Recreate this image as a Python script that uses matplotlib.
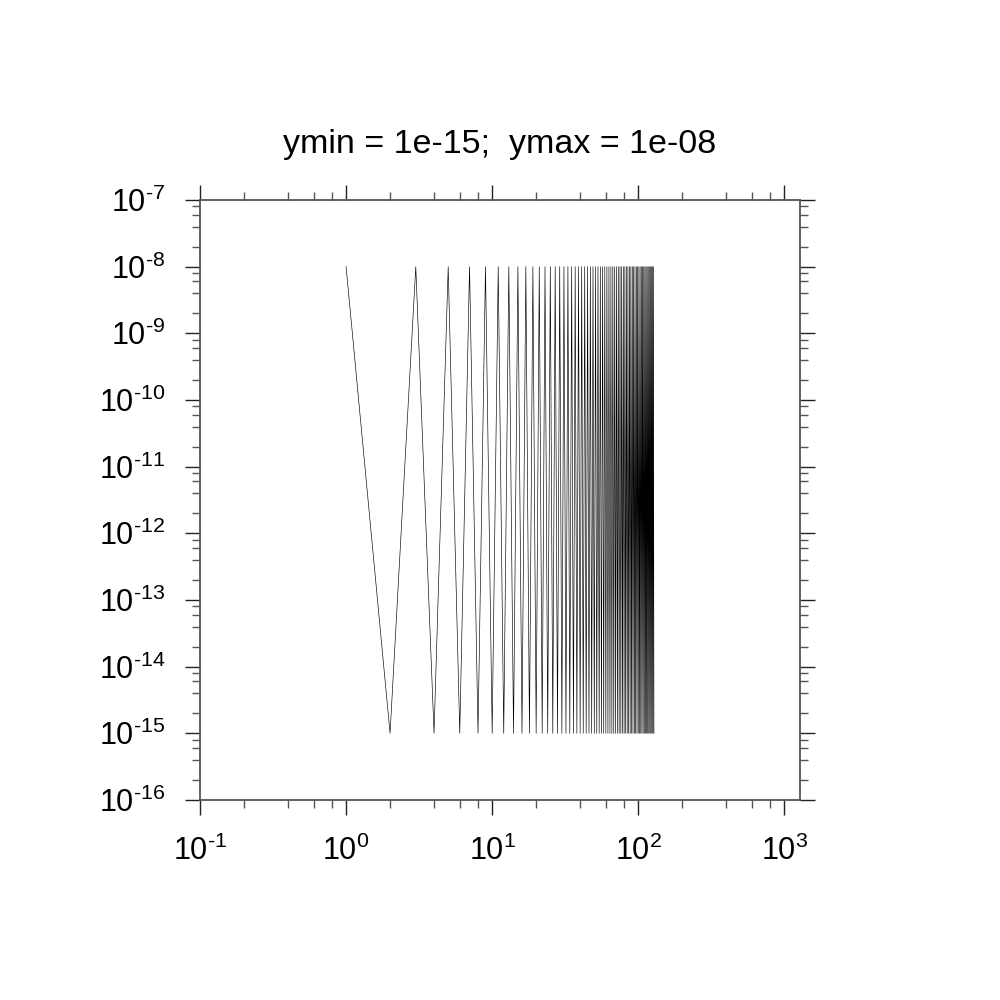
import math
import matplotlib
matplotlib.use("Agg")
import matplotlib.pyplot as plt
from matplotlib.ticker import LogLocator, FuncFormatter, NullFormatter

plt.rcParams["font.family"] = ["Liberation Sans", "DejaVu Sans"]
plt.rcParams["mathtext.fontset"] = "custom"
plt.rcParams["mathtext.rm"] = "Liberation Sans"
plt.rcParams["mathtext.it"] = "Liberation Sans:italic"
plt.rcParams["mathtext.bf"] = "Liberation Sans:bold"

# ============================================================
# Data: index vs alternating ymax / ymin
# ============================================================

YMIN = 1e-15
YMAX = 1e-08
HI, LO = YMAX, YMIN

x = [
    1, 2, 3, 4, 5, 6, 7, 8, 9, 10, 11, 12, 13, 14, 15, 16,
    17, 18, 19, 20, 21, 22, 23, 24, 25, 26, 27, 28, 29, 30, 31, 32,
    33, 34, 35, 36, 37, 38, 39, 40, 41, 42, 43, 44, 45, 46, 47, 48,
    49, 50, 51, 52, 53, 54, 55, 56, 57, 58, 59, 60, 61, 62, 63, 64,
    65, 66, 67, 68, 69, 70, 71, 72, 73, 74, 75, 76, 77, 78, 79, 80,
    81, 82, 83, 84, 85, 86, 87, 88, 89, 90, 91, 92, 93, 94, 95, 96,
    97, 98, 99, 100, 101, 102, 103, 104, 105, 106, 107, 108, 109, 110, 111, 112,
    113, 114, 115, 116, 117, 118, 119, 120, 121, 122, 123, 124, 125, 126, 127, 128,
]

y = [
    HI, LO, HI, LO, HI, LO, HI, LO, HI, LO, HI, LO, HI, LO, HI, LO,
    HI, LO, HI, LO, HI, LO, HI, LO, HI, LO, HI, LO, HI, LO, HI, LO,
    HI, LO, HI, LO, HI, LO, HI, LO, HI, LO, HI, LO, HI, LO, HI, LO,
    HI, LO, HI, LO, HI, LO, HI, LO, HI, LO, HI, LO, HI, LO, HI, LO,
    HI, LO, HI, LO, HI, LO, HI, LO, HI, LO, HI, LO, HI, LO, HI, LO,
    HI, LO, HI, LO, HI, LO, HI, LO, HI, LO, HI, LO, HI, LO, HI, LO,
    HI, LO, HI, LO, HI, LO, HI, LO, HI, LO, HI, LO, HI, LO, HI, LO,
    HI, LO, HI, LO, HI, LO, HI, LO, HI, LO, HI, LO, HI, LO, HI, LO,
]

XLIM = (1e-1, 1280)
YLIM = (1e-16, 1e-7)

# ============================================================
# Plot
# ============================================================

fig = plt.figure(figsize=(10, 10), dpi=100)
ax = fig.add_axes([0.2, 0.2, 0.6, 0.6])

ax.plot(x, y, color="black", linewidth=0.45)

ax.set_xscale("log")
ax.set_yscale("log")
ax.set_xlim(*XLIM)
ax.set_ylim(*YLIM)


def pow_label(v, pos):
    e = int(round(math.log10(v)))
    s = str(e).replace("-", "\u2010")
    return r"$\mathregular{10^{%s}}$" % s


for axis in (ax.xaxis, ax.yaxis):
    axis.set_major_locator(LogLocator(base=10, numticks=20))
    axis.set_minor_locator(LogLocator(base=10, subs=(2, 4, 6, 8), numticks=20))
    axis.set_major_formatter(FuncFormatter(pow_label))
    axis.set_minor_formatter(NullFormatter())

ax.tick_params(which="both", direction="out", top=True, right=True,
               color="#555555", width=1.0)
ax.tick_params(which="major", length=11, labelsize=22, pad=14, color="#222222")
ax.tick_params(which="minor", length=5.5)
ax.tick_params(axis="x", which="major", pad=15)

for s in ax.spines.values():
    s.set_color("#555555")
    s.set_linewidth(1.3)

ax.set_title("ymin = 1e-15;  ymax = 1e-08", fontsize=24.5, pad=34)

fig.savefig("out.png", dpi=100, facecolor="white")
